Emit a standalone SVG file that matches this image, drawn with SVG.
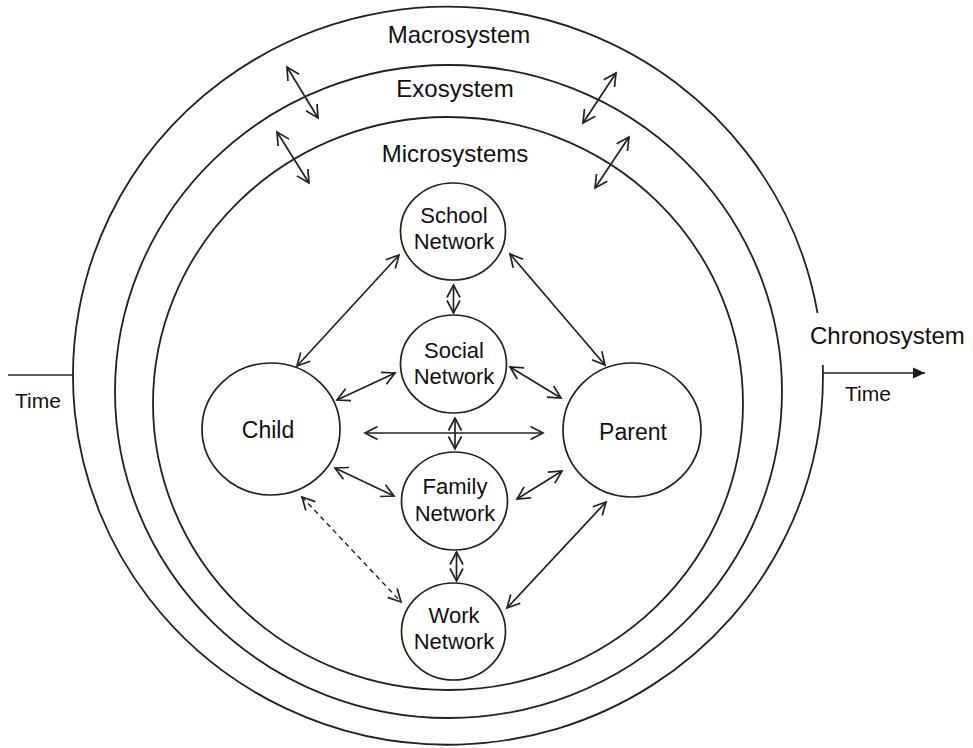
<svg xmlns="http://www.w3.org/2000/svg" width="973" height="748" viewBox="0 0 973 748">
<defs>
<marker id="ah" markerUnits="userSpaceOnUse" markerWidth="16" markerHeight="16" refX="13" refY="7" orient="auto-start-reverse" overflow="visible">
<path d="M0.5,0.5 L13,7 L0.5,13.5" fill="none" stroke="#222" stroke-width="1.7" stroke-linejoin="miter"/>
</marker>
<marker id="tri" markerUnits="userSpaceOnUse" markerWidth="14" markerHeight="12" refX="12" refY="6" orient="auto" overflow="visible">
<path d="M0,0.5 L12,6 L0,11.5 Z" fill="#1a1a1a"/>
</marker>
</defs>
<style>
.ring{fill:none;stroke:#222;stroke-width:1.8}
.node{fill:#fff;stroke:#222;stroke-width:1.7}
.lbl{font-family:"Liberation Sans",Arial,Helvetica,sans-serif;fill:#111;text-anchor:middle}
.sys{font-size:24px}
.nl{font-size:22px}
.big{font-size:23px}
.c{fill:none;stroke:#222;stroke-width:1.7;marker-start:url(#ah);marker-end:url(#ah)}
.dash{stroke-dasharray:5 4;stroke-width:1.4}
</style>
<rect width="973" height="748" fill="#fff"/>

<g id="macrosystem">
<path class="ring" d="M822.8,365 A375,369 0 1 1 817.5,313"/>
<text class="lbl sys" x="459" y="43">Macrosystem</text>
</g>
<g id="exosystem">
<ellipse class="ring" cx="448.5" cy="391.5" rx="333.5" ry="326.5"/>
<text class="lbl sys" x="455" y="97">Exosystem</text>
</g>
<g id="microsystems">
<ellipse class="ring" cx="448" cy="403.5" rx="295" ry="286.5"/>
<text class="lbl sys" x="455" y="162">Microsystems</text>
</g>

<g id="time-left">
<line x1="8" y1="375" x2="73" y2="375" stroke="#222" stroke-width="1.7"/>
<text class="lbl" style="font-size:21px;text-anchor:start" x="15" y="408">Time</text>
</g>
<g id="chronosystem">
<text class="lbl sys" style="text-anchor:start" x="810" y="344">Chronosystem</text>
<line x1="823" y1="373" x2="925" y2="373" stroke="#222" stroke-width="1.7" marker-end="url(#tri)"/>
<text class="lbl" style="font-size:21px;text-anchor:start" x="845" y="401">Time</text>
</g>

<g id="connectors">
<line class="c" x1="287" y1="67" x2="318" y2="118"/>
<line class="c" x1="277" y1="132" x2="309" y2="183"/>
<line class="c" x1="616" y1="73" x2="583" y2="123"/>
<line class="c" x1="629" y1="137" x2="595" y2="188"/>

<line class="c" x1="297" y1="366" x2="399" y2="255"/>
<line class="c" x1="337" y1="400" x2="395" y2="373"/>
<line class="c" x1="365" y1="433" x2="543" y2="433"/>
<line class="c" x1="335" y1="468" x2="394" y2="496"/>
<line class="c dash" x1="302" y1="497" x2="401" y2="602"/>
<line class="c" x1="453.5" y1="285" x2="453.5" y2="313"/>
<line class="c" x1="455" y1="418" x2="455" y2="449"/>
<line class="c" x1="456.5" y1="552" x2="456.5" y2="581"/>
<line class="c" x1="510" y1="254" x2="605" y2="365"/>
<line class="c" x1="510" y1="367" x2="561" y2="398"/>
<line class="c" x1="517" y1="499" x2="562" y2="471"/>
<line class="c" x1="507" y1="608" x2="606" y2="502"/>
</g>

<g id="school">
<ellipse class="node" cx="453" cy="231.5" rx="52.5" ry="48.5"/>
<text class="lbl nl" x="454" y="223">School</text>
<text class="lbl nl" x="454" y="249">Network</text>
</g>
<g id="social">
<ellipse class="node" cx="453.5" cy="364" rx="53" ry="49"/>
<text class="lbl nl" x="454" y="358">Social</text>
<text class="lbl nl" x="454" y="384">Network</text>
</g>
<g id="family">
<ellipse class="node" cx="454.5" cy="501" rx="53" ry="49"/>
<text class="lbl nl" x="455" y="494">Family</text>
<text class="lbl nl" x="455" y="520.5">Network</text>
</g>
<g id="work">
<ellipse class="node" cx="453.5" cy="631.5" rx="52" ry="48.5"/>
<text class="lbl nl" x="454" y="622.5">Work</text>
<text class="lbl nl" x="454" y="649">Network</text>
</g>
<g id="child">
<ellipse class="node" cx="271" cy="429" rx="69" ry="66"/>
<text class="lbl big" x="268" y="438">Child</text>
</g>
<g id="parent">
<ellipse class="node" cx="632" cy="430" rx="69" ry="67"/>
<text class="lbl big" x="633" y="440">Parent</text>
</g>
</svg>
